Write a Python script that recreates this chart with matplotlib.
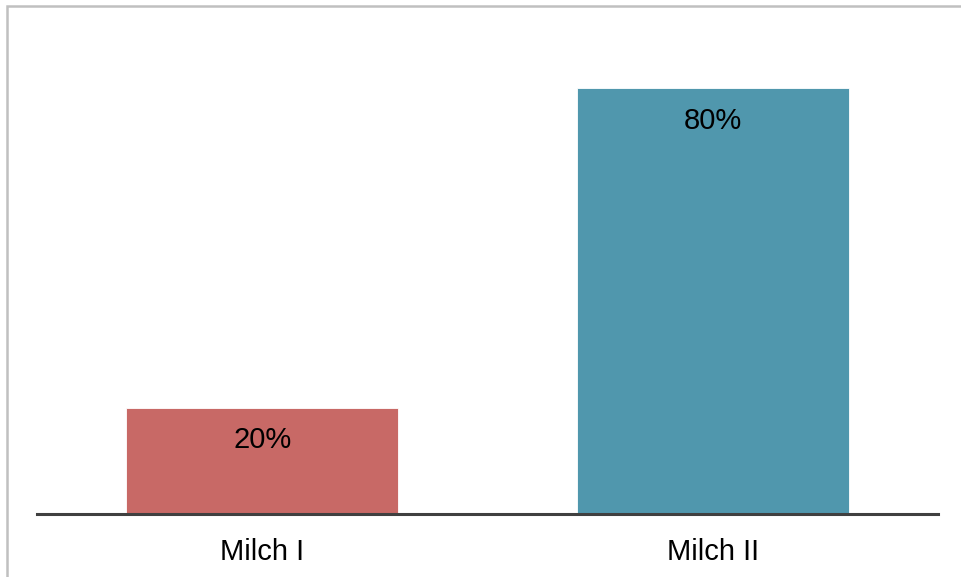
import matplotlib.pyplot as plt
from matplotlib.patches import Rectangle

plt.rcParams['font.family'] = ['Liberation Sans', 'DejaVu Sans']

categories = ["Milch I", "Milch II"]
shares = [20, 80]
bar_colors = ["#C86966", "#5097AD"]

W, H = 961, 577
fig = plt.figure(figsize=(W / 100, H / 100), dpi=100)

# thin grey frame, open on the right and bottom
fig.patches.append(Rectangle((7 / W, -0.1), 1.2, (H - 6) / H + 0.1,
                             transform=fig.transFigure, fill=False,
                             edgecolor="#C0C0C0", linewidth=1.8))

# axes: x from 37 to 938 px, baseline at y=514 px, top at y=0
ax = fig.add_axes([37 / W, (H - 514) / H, 901 / W, 514 / H])
ax.set_xlim(-0.5, 1.5)
ax.set_ylim(0, 80 * 514 / 426)

bars = ax.bar(range(len(categories)), shares, width=0.604, color=bar_colors,
              edgecolor="white", linewidth=0.6)
for b, v in zip(bars, shares):
    ax.annotate(f"{v}%", (b.get_x() + b.get_width() / 2, v),
                xytext=(0, -33), textcoords="offset pixels",
                ha="center", va="center", fontsize=21, color="black")

for s in ["top", "right", "left"]:
    ax.spines[s].set_visible(False)
ax.spines["bottom"].set_color("#404040")
ax.spines["bottom"].set_linewidth(2.2)
ax.set_yticks([])
ax.set_xticks(range(len(categories)))
ax.set_xticklabels(categories, fontsize=21)
ax.tick_params(axis="x", length=0, pad=17)
ax.patch.set_alpha(0)

fig.savefig("out.png", dpi=100)
